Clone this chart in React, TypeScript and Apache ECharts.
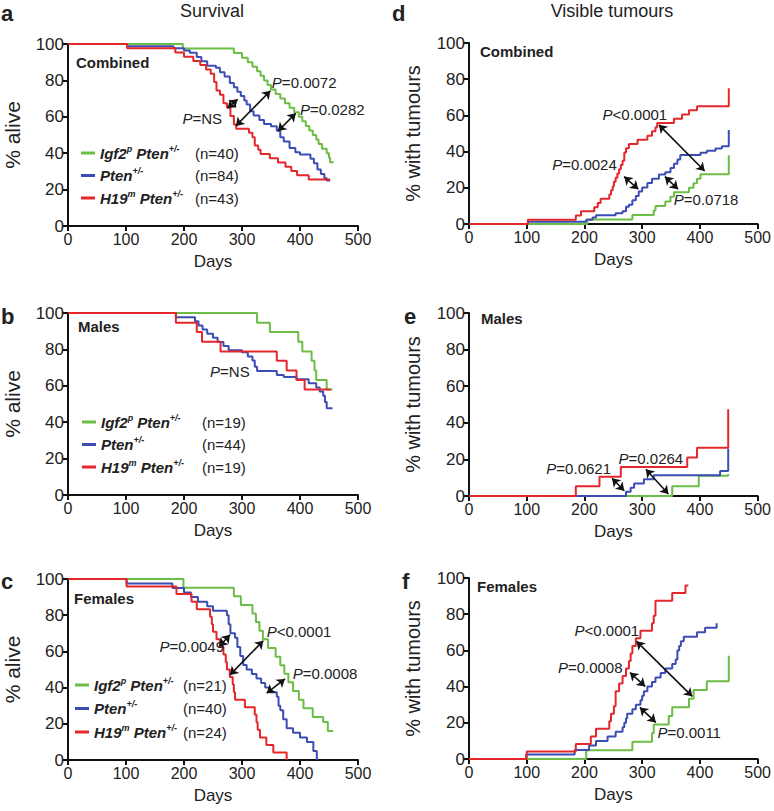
import React, { useEffect, useRef } from 'react';
import * as echarts from 'echarts';

const FONT = '"Liberation Sans", Arial, Helvetica, sans-serif';
const GREEN = '#6cbd45';
const BLUE = '#3b4db5';
const RED = '#e3272b';
const INK = '#222222';

const xTicks = [0, 100, 200, 300, 400, 500];
const yTicks = [0, 20, 40, 60, 80, 100];

// ---- a: survival, combined ----
const aIgf2 = [[0,100],[198,97.5],[286,95],[300,92.5],[310,90],[318,87.5],[326,85],[332,82.5],[338,80],[344,77.5],[350,75],[358,72.5],[366,70],[374,67.5],[382,65],[390,62.5],[398,60],[404,57.5],[410,55],[416,52.5],[422,50],[428,47.5],[432,45],[438,42.5],[446,40],[450,37.5],[452,35],[458,35]];
const aPten = [[0,100],[102,98.8],[182,97.6],[200,96.4],[210,95.2],[222,92.9],[230,90.5],[240,88.1],[255,86.9],[262,84.5],[270,82.1],[279,78.6],[286,76.2],[292,73.8],[298,71.4],[304,69],[308,66.7],[314,63.1],[320,60.7],[330,58.3],[338,56],[350,54.8],[360,52.4],[366,48.8],[372,46.4],[382,42.9],[392,40.5],[400,39.3],[418,36.9],[424,34.5],[430,31],[436,28.6],[442,26.2],[446,25],[452,25]];
const aH19 = [[0,100],[102,97.7],[185,95.3],[200,93],[216,90.7],[228,88.4],[238,86],[246,83.7],[252,79.1],[256,74.4],[262,72.1],[268,67.4],[274,65.1],[280,60.5],[286,55.8],[290,53.5],[312,51.2],[318,48.8],[322,44.2],[328,41.9],[332,39.5],[348,37.2],[362,34.9],[375,32.6],[385,30.2],[395,27.9],[415,25.6],[452,25.6]];

// ---- b: survival, males ----
const bIgf2 = [[0,100],[326,94.7],[348,89.5],[397,84.2],[404,78.9],[420,73.7],[425,68.4],[428,63.2],[446,57.9],[456,57.9]];
const bPten = [[0,100],[186,97.7],[219,95.5],[225,93.2],[232,90.9],[240,88.6],[250,86.4],[258,84.1],[268,81.8],[277,79.5],[300,78.4],[310,76.1],[318,73.9],[322,70.5],[326,68.2],[360,65.9],[372,64.8],[394,63.6],[415,61.4],[428,59.1],[434,56.8],[440,54.5],[443,51.1],[446,47.7],[456,47.7]];
const bH19 = [[0,100],[186,94.7],[222,89.5],[231,84.2],[263,78.9],[360,73.7],[377,68.4],[394,63.2],[408,57.9],[453,57.9]];

// ---- c: survival, females ----
const cIgf2 = [[0,100],[199,95.2],[286,90.5],[298,85.7],[318,81],[324,76.2],[330,71.4],[336,66.7],[345,61.9],[358,57.1],[366,52.4],[373,47.6],[380,42.9],[388,38.1],[398,33.3],[406,28.6],[422,23.8],[440,21],[448,16],[457,16]];
const cPten = [[0,100],[101,97.5],[180,95],[200,92.5],[212,90],[224,87.5],[240,85],[250,82.5],[274,80],[277,75],[280,70],[288,67.5],[292,62.5],[297,57.5],[302,52.5],[308,50],[317,47.5],[325,45],[333,42.5],[340,40],[348,37.5],[360,35],[363,30],[366,27.5],[371,22.5],[377,17.5],[388,15],[400,12.5],[412,10],[423,5],[429,0]];
const cH19 = [[0,100],[101,95.8],[187,91.7],[213,87.5],[222,83.3],[245,79.2],[248,75],[250,70.8],[256,66.7],[262,62.5],[268,58.3],[272,54.2],[274,50],[279,45.8],[284,41.7],[286,37.5],[288,33.3],[305,29.2],[322,25],[325,20.8],[327,16.7],[331,12.5],[342,8.3],[354,4.2],[377,0]];

// ---- d: tumours, combined ----
const dIgf2 = [[0,0],[205,2.5],[283,5],[320,7.5],[323,10],[340,12.5],[349,15],[355,17.5],[381,20],[389,22.5],[395,25],[401,27.5],[450,38]];
const dPten = [[0,0],[102,1.2],[203,2.4],[214,3.6],[220,4.8],[254,6],[266,7.1],[272,9.5],[277,10.7],[283,13.1],[289,15.5],[294,17.9],[300,20.2],[309,22.6],[317,25],[329,27.4],[340,28.6],[349,31],[355,33.3],[361,35.7],[366,38.1],[401,39.3],[412,40.5],[427,41.7],[438,42.9],[450,52]];
const dH19 = [[0,0],[102,2.3],[185,4.7],[194,7],[217,9.3],[223,11.6],[228,14],[243,16.3],[246,18.6],[249,20.9],[251,23.3],[254,25.6],[257,27.9],[260,30.2],[263,32.6],[266,34.9],[269,39.5],[272,41.9],[277,44.2],[292,46.5],[309,48.8],[317,51.2],[323,53.5],[326,55.8],[355,58.1],[369,60.5],[381,62.8],[395,65.1],[450,75]];

// ---- e: tumours, males ----
const eIgf2 = [[0,0],[352,5.3],[398,11],[449,12]];
const ePten = [[0,0],[272,2.3],[280,4.5],[286,6.8],[303,9.1],[320,11.4],[435,13.6],[449,26]];
const eH19 = [[0,0],[185,5.3],[226,10.5],[263,15.8],[378,21],[395,26.3],[449,47.4]];

// ---- f: tumours, females ----
const fIgf2 = [[0,0],[203,4.8],[283,9.5],[317,14.3],[320,19],[346,23.8],[352,28.6],[381,33.3],[389,38.1],[412,42.9],[450,57]];
const fPten = [[0,0],[99,2.5],[183,5],[208,7.5],[220,10],[240,12.5],[254,15],[266,17.5],[269,20],[272,22.5],[274,25],[283,27.5],[289,30],[297,32.5],[300,35],[303,37.5],[309,40],[317,42.5],[323,45],[332,47.5],[340,50],[352,52.5],[358,55],[361,60],[364,62.5],[367,65],[372,67.5],[395,70],[409,72.5],[429,75],[430,75]];
const fH19 = [[0,0],[100,4.2],[185,8.3],[211,12.5],[220,16.7],[243,20.8],[246,25],[251,29.2],[254,37.5],[260,41.7],[266,45.8],[272,50],[277,54.2],[280,58.3],[283,62.5],[289,66.7],[297,70.8],[317,75],[320,79.2],[323,87.5],[352,91.7],[375,95.8],[380,95.8]];

// annotations (data coordinates)
const aArrows = [[275,64.7,292.5,69.6],[289.5,55,349,74.3],[362,52.2,392.7,61.9]];
const bArrows: number[][] = [];
const cArrows = [[260.9,62.7,279.3,69.2],[279.3,47,336.7,65.9],[342.6,36.9,374,44.8]];
const dArrows = [[329,54.8,408.2,29.3],[268.7,26.2,293.3,19.2],[339.3,26.2,362.1,19.2]];
const eArrows = [[247.7,9.7,269,2.9],[306.3,14.6,345.4,1.1]];
const fArrows = [[290.2,65,386.7,34.6],[278.8,47.8,305.2,40.1],[296,28.5,323.6,20.2]];

const aPvals = [[351.5,79,'P=0.0072','left'],[400,64,'P=0.0282','left'],[265.6,59.3,'P=NS','right']];
const bPvals = [[245,67.7,'P=NS','left']];
const cPvals = [[342.6,71,'P<0.0001','left'],[387.4,47.6,'P=0.0008','left'],[269,62.7,'P=0.0049','right']];
const dPvals = [[231.3,60.3,'P<0.0001','left'],[144,32.6,'P=0.0024','left'],[354.8,13.3,'P=0.0718','left']];
const ePvals = [[134,14.8,'P=0.0621','left'],[259,20.3,'P=0.0264','left']];
const fPvals = [[182.8,70.9,'P<0.0001','left'],[154,50.6,'P=0.0008','left'],[326.4,14.7,'P=0.0011','left']];

const aCounts = ['(n=40)', '(n=84)', '(n=43)'];
const bCounts = ['(n=19)', '(n=44)', '(n=19)'];
const cCounts = ['(n=21)', '(n=40)', '(n=24)'];

const groups = ['Igf2', 'Pten', 'H19'];
const colors = [GREEN, BLUE, RED];

let canvasCtx: CanvasRenderingContext2D | null = null;
function measure(text: string, font: string) {
  if (!canvasCtx) {
    const c = document.createElement('canvas');
    canvasCtx = c.getContext('2d');
  }
  if (!canvasCtx) return text.length * 8;
  canvasCtx.font = font;
  return canvasCtx.measureText(text).width;
}

function nameParts(g: string): [string, string][] {
  if (g === 'Igf2') return [['g', 'Igf2'], ['s', 'p'], ['g', ' Pten'], ['s', '+/-']];
  if (g === 'Pten') return [['g', 'Pten'], ['s', '+/-']];
  return [['g', 'H19'], ['s', 'm'], ['g', ' Pten'], ['s', '+/-']];
}

const G_FONT = `italic bold 15px ${FONT}`;
const S_FONT = `italic bold 9px ${FONT}`;

function App() {
  const ref = useRef<HTMLDivElement>(null);
  useEffect(() => {
    if (!ref.current) return;
    const chart = echarts.init(ref.current, null, { renderer: 'svg' });

    const panels = [
      { key: 'a', grid: { left: 68, top: 44, width: 290, height: 182 }, yName: '% alive', data: [aIgf2, aPten, aH19], arrows: aArrows, pv: aPvals, legend: { left: 81, top: 144, colW: 95, gap: 6, counts: aCounts } },
      { key: 'b', grid: { left: 68, top: 313, width: 290, height: 182 }, yName: '% alive', data: [bIgf2, bPten, bH19], arrows: bArrows, pv: bPvals, legend: { left: 82, top: 413, colW: 101, gap: 6, counts: bCounts } },
      { key: 'c', grid: { left: 68, top: 579, width: 290, height: 181 }, yName: '% alive', data: [cIgf2, cPten, cH19], arrows: cArrows, pv: cPvals, legend: { left: 75, top: 676, colW: 89, gap: 7, counts: cCounts } },
      { key: 'd', grid: { left: 469, top: 43, width: 290, height: 181 }, yName: '% with tumours', data: [dIgf2, dPten, dH19], arrows: dArrows, pv: dPvals, legend: null },
      { key: 'e', grid: { left: 469, top: 313, width: 290, height: 183 }, yName: '% with tumours', data: [eIgf2, ePten, eH19], arrows: eArrows, pv: ePvals, legend: null },
      { key: 'f', grid: { left: 469, top: 578, width: 290, height: 181 }, yName: '% with tumours', data: [fIgf2, fPten, fH19], arrows: fArrows, pv: fPvals, legend: null },
    ];

    const grids: any[] = [];
    const xAxes: any[] = [];
    const yAxes: any[] = [];
    const series: any[] = [];
    const legends: any[] = [];

    const axisLine = { show: true, lineStyle: { color: '#111', width: 2 } };
    const axisTick = { show: true, length: 5, lineStyle: { color: '#111', width: 2 } };

    panels.forEach((p, i) => {
      grids.push({ ...p.grid, containLabel: false });
      xAxes.push({
        type: 'value', gridIndex: i, min: xTicks[0], max: xTicks[xTicks.length - 1], interval: 100,
        name: 'Days', nameLocation: 'middle', nameGap: 27,
        nameTextStyle: { fontFamily: FONT, fontSize: 17, color: INK },
        axisLine, axisTick, splitLine: { show: false },
        axisLabel: { fontFamily: FONT, fontSize: 16, color: INK, margin: 5 },
      });
      const alive = p.yName === '% alive';
      yAxes.push({
        type: 'value', gridIndex: i, min: yTicks[0], max: yTicks[yTicks.length - 1], interval: 20,
        name: p.yName, nameLocation: 'middle', nameGap: alive ? 45 : 46, nameRotate: 90,
        nameTextStyle: { fontFamily: FONT, fontSize: alive ? 21 : 20, color: INK },
        axisLine, axisTick, splitLine: { show: false },
        axisLabel: { fontFamily: FONT, fontSize: 17, color: INK, margin: 4 },
      });
      p.data.forEach((d, gi) => {
        const s: any = {
          type: 'line', name: `${p.key}-${groups[gi]}`, xAxisIndex: i, yAxisIndex: i,
          data: d, step: 'end', showSymbol: false, symbol: 'none', silent: true,
          color: colors[gi], lineStyle: { width: 2, color: colors[gi] }, itemStyle: { color: colors[gi] },
          z: 2 + gi,
        };
        if (gi === 2) {
          s.markLine = {
            silent: true, symbol: ['arrow', 'arrow'], symbolSize: 8,
            lineStyle: { color: '#111', width: 1.6, type: 'solid' },
            label: { show: false }, emphasis: { disabled: true },
            data: p.arrows.map((a) => [{ coord: [a[0], a[1]] }, { coord: [a[2], a[3]] }]),
          };
          s.markPoint = {
            silent: true, symbol: 'circle', symbolSize: 1, itemStyle: { color: 'rgba(0,0,0,0)' },
            data: p.pv.map((q: any) => ({
              coord: [q[0], q[1]],
              label: {
                show: true, position: 'inside', align: q[3], verticalAlign: 'middle',
                formatter: `{i|${q[2].slice(0, 1)}}{r|${q[2].slice(1)}}`,
                rich: {
                  i: { fontFamily: FONT, fontSize: 15, fontStyle: 'italic', color: INK },
                  r: { fontFamily: FONT, fontSize: 15, color: INK },
                },
              },
            })),
          };
        }
        series.push(s);
      });
      if (p.legend) {
        const L = p.legend;
        const rich: any = {
          g: { fontFamily: FONT, fontSize: 15, fontStyle: 'italic', fontWeight: 'bold', color: INK, lineHeight: 18 },
          s: { fontFamily: FONT, fontSize: 9, fontStyle: 'italic', fontWeight: 'bold', color: INK, lineHeight: 11, verticalAlign: 'top' },
          n: { fontFamily: FONT, fontSize: 15, color: INK, lineHeight: 18 },
        };
        groups.forEach((g, gi) => {
          const parts = nameParts(g);
          let w = 0;
          parts.forEach(([st, t]) => { w += measure(t, st === 'g' ? G_FONT : S_FONT); });
          rich['sp' + gi] = { width: Math.max(1, L.colW - w), lineHeight: 18 };
        });
        legends.push({
          data: groups.map((g) => `${p.key}-${g}`),
          orient: 'vertical', left: L.left, top: L.top, itemWidth: 14, itemHeight: 3, itemGap: L.gap,
          icon: 'rect', selectedMode: false, padding: 0,
          textStyle: { fontFamily: FONT, color: INK, rich },
          formatter: (name: string) => {
            const g = name.split('-')[1];
            const gi = groups.indexOf(g);
            const parts = nameParts(g).map(([st, t]) => `{${st}|${t}}`).join('');
            return `${parts}{sp${gi}| }{n|${L.counts[gi]}}`;
          },
        });
      }
    });

    const txt = (text: string, x: number, y: number, size: number, weight = 'normal', align = 'left') => ({
      type: 'text', x, y, silent: true,
      style: { text, fill: INK, font: `${weight} ${size}px ${FONT}`, textAlign: align, textVerticalAlign: 'middle' },
    });

    const graphic = [
      txt('Survival', 212, 11, 18, 'normal', 'center'),
      txt('Visible tumours', 612, 11, 18, 'normal', 'center'),
      txt('a', 1, 13, 22, 'bold'),
      txt('d', 392, 13, 22, 'bold'),
      txt('b', 1, 316, 22, 'bold'),
      txt('e', 404, 316, 22, 'bold'),
      txt('c', 1, 581, 22, 'bold'),
      txt('f', 402, 581, 22, 'bold'),
      txt('Combined', 76, 62, 15, 'bold'),
      txt('Combined', 480, 51, 15, 'bold'),
      txt('Males', 78, 326, 15, 'bold'),
      txt('Males', 481, 318, 15, 'bold'),
      txt('Females', 74, 598, 15, 'bold'),
      txt('Females', 477, 586, 15, 'bold'),
    ];

    chart.setOption({
      animation: false,
      backgroundColor: '#ffffff',
      grid: grids,
      xAxis: xAxes,
      yAxis: yAxes,
      legend: legends,
      series,
      graphic,
    });
    return () => chart.dispose();
  }, []);
  return <div ref={ref} style={{ position: 'fixed', left: 0, top: 0, width: 774, height: 811, background: '#fff' }} />;
}

export default App;
